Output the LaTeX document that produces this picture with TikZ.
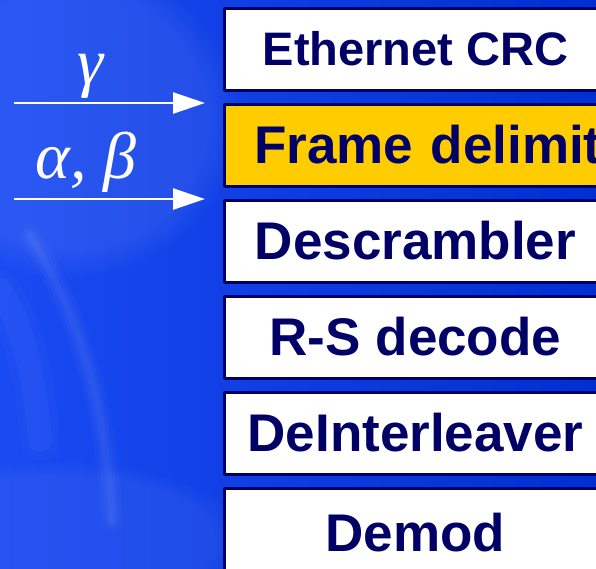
\documentclass[tikz,border=0pt]{standalone}
\usepackage{fontspec}
\setmainfont{Liberation Sans}
\newfontfamily\greekfont{Liberation Serif}
\usepackage{tikz}
\usepackage{xcolor}
\usetikzlibrary{arrows.meta,positioning,fadings}

\definecolor{navy}{HTML}{000066}
\definecolor{bgleft}{HTML}{1A4AF2}
\definecolor{bgright}{HTML}{0030D2}
\definecolor{delim}{HTML}{FFCC00}

\begin{document}
\begin{tikzpicture}[x=1pt, y=-1pt, >=Latex, line cap=round, line join=round,
    layer/.style={draw=navy, line width=3pt, fill=white, anchor=north west,
      minimum width=383pt, minimum height=82pt, inner sep=0pt,
      text=navy, font=\fontsize{53}{60}\selectfont\bfseries},
    flow/.style={draw=white, line width=2.6pt, line cap=butt,
      -{Triangle[length=32pt, width=21pt]}},
    greek/.style={text=white, font=\fontsize{66}{68}\selectfont\greekfont\itshape},
    glow/.style={white, path fading=circle with fuzzy edge 20 percent}]
  \useasboundingbox (0,0) rectangle (596,568);
  \clip (0,0) rectangle (596,568);

  % background
  \shade[left color=bgleft, right color=bgright] (0,0) rectangle (596,568);
  \fill[glow, opacity=0.08] (70,120) ellipse (170pt and 160pt);
  \fill[glow, opacity=0.06] (60,540) ellipse (190pt and 80pt);
  \foreach \w/\o in {22/0.025, 14/0.03, 7/0.04}
    \draw[white, opacity=\o, line width=\w pt] (30,235) .. controls (80,320) and (105,400) .. (112,520);
  \foreach \w/\o in {40/0.02, 24/0.03}
    \draw[white, opacity=\o, line width=\w pt] (0,290) .. controls (25,330) and (35,380) .. (40,440);

  % protocol stack
  \node[layer] (crc) at (222.5,6.5) {\fontsize{47}{52}\selectfont Ethernet CRC};
  \node[layer, fill=delim, text width=350pt, align=left, inner xsep=30pt]
      (frame) at (222.5,102.5) {Frame delimit};
  \node[layer] (descr) at (222.5,198.5) {Descrambler};
  \node[layer] (rs) at (222.5,294.5) {R-S decode};
  \node[layer] (deint) at (222.5,390.5) {DeInterleaver};
  \node[layer, minimum height=90pt] (demod) at (222.5,486.5) {Demod};

  % inputs
  \coordinate (gin) at (14,103);
  \coordinate (gout) at (205,103);
  \coordinate (abin) at (14,199);
  \coordinate (about) at (205,199);
  \draw[flow] (gin) -- (gout);
  \draw[flow] (abin) -- (about);
  \node[greek] (gamma) at (91,76) {γ};
  \node[greek] (alphabeta) at (86,162) {α, β};
\end{tikzpicture}
\end{document}
